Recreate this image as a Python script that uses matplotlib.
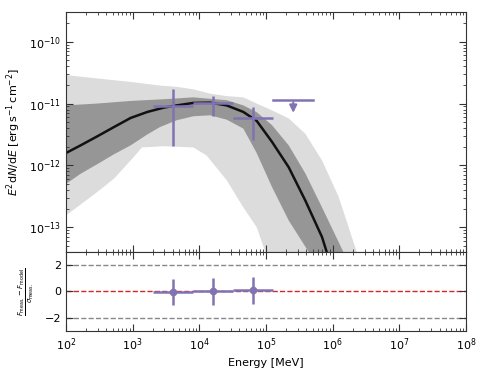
import matplotlib
matplotlib.use("Agg")
import matplotlib.pyplot as plt
import numpy as np

# energy bins [MeV] and measured fluxes [erg s^-1 cm^-2]
bin_lo = np.array([2.0e3, 8.0e3, 3.2e4])
bin_hi = np.array([8.0e3, 3.2e4, 1.28e5])
flux = np.array([9.0e-12, 1.02e-11, 5.85e-12])
flux_up = np.array([1.75e-11, 1.31e-11, 8.8e-12])
flux_lo = np.array([2.06e-12, 6.2e-12, 2.6e-12])

# upper limit bin
ul_lo, ul_hi, ul_val = 1.28e5, 5.12e5, 1.16e-11

# residuals
resid = np.array([-0.02, 0.0, 0.08])
resid_err = np.array([1.0, 1.0, 1.0])

# model curve (log10 E, log10 F)
model_lE = [2.0, 2.22, 2.47, 2.72, 2.97, 3.22, 3.47, 3.66, 3.91, 4.16, 4.41, 4.66,
            4.86, 5.09, 5.34, 5.59, 5.84, 5.91, 5.98]
model_lF = [-11.80, -11.676, -11.53, -11.38, -11.233, -11.136, -11.065, -11.03, -10.99,
            -10.985, -11.03, -11.136, -11.28, -11.62, -12.03, -12.57, -13.16, -13.40,
            -13.65]

# 1-sigma band
dark_up_lE = [2.0, 2.47, 2.97, 3.47, 3.91, 4.41, 4.66, 4.86, 5.09, 5.34, 5.59, 5.84,
              6.16, 6.25]
dark_up_lF = [-11.03, -11.0, -10.958, -10.93, -10.90, -10.946, -11.03, -11.14, -11.35,
              -11.676, -12.13, -12.68, -13.40, -13.65]
dark_lo_lE = [2.0, 2.22, 2.47, 2.72, 2.97, 3.22, 3.41, 3.66, 3.91, 4.16, 4.41, 4.66,
              4.86, 5.09, 5.34, 5.64, 5.72]
dark_lo_lF = [-12.30, -12.135, -11.98, -11.82, -11.676, -11.50, -11.38, -11.27, -11.206,
              -11.19, -11.26, -11.405, -11.80, -12.35, -12.89, -13.40, -13.65]

# 2-sigma band
light_up_lE = [2.0, 2.47, 2.97, 3.41, 3.66, 3.91, 4.16, 4.41, 4.66, 4.86, 5.09, 5.34,
               5.59, 5.84, 6.09, 6.36, 6.45]
light_up_lF = [-10.54, -10.595, -10.65, -10.71, -10.73, -10.77, -10.84, -10.88, -10.90,
               -11.0, -11.11, -11.24, -11.49, -11.92, -12.51, -13.40, -13.65]
light_lo_lE = [2.0, 2.47, 2.72, 2.97, 3.14, 3.47, 3.91, 4.11, 4.41, 4.66, 4.86, 4.99,
               5.05]
light_lo_lF = [-12.81, -12.43, -12.215, -11.92, -11.71, -11.69, -11.71, -11.84, -12.24,
               -12.68, -13.0, -13.40, -13.65]

PURPLE = "#8172B2"


def band_polygon(ax, up_lE, up_lF, lo_lE, lo_lF, color):
    xs = np.concatenate([10 ** np.array(up_lE), 10 ** np.array(lo_lE)[::-1]])
    ys = np.concatenate([10 ** np.array(up_lF), 10 ** np.array(lo_lF)[::-1]])
    ax.fill(xs, ys, color=color, lw=0, zorder=1)


def style_axis(ax):
    ax.tick_params(which="both", direction="in", top=True, right=True,
                   labelsize=8, color="#333333")
    ax.tick_params(which="major", length=5)
    ax.tick_params(which="minor", length=2.5)
    for s in ax.spines.values():
        s.set_color("#333333")


fig = plt.figure(figsize=(4.85, 3.81), dpi=100)
ax = fig.add_axes([0.136, 0.339, 0.825, 0.629])
axr = fig.add_axes([0.136, 0.131, 0.825, 0.208], sharex=ax)

band_polygon(ax, light_up_lE, light_up_lF, light_lo_lE, light_lo_lF, "#dcdcdc")
band_polygon(ax, dark_up_lE, dark_up_lF, dark_lo_lE, dark_lo_lF, "#969696")
ax.plot(10 ** np.array(model_lE), 10 ** np.array(model_lF), color="#111111", lw=1.8,
        zorder=2, solid_joinstyle="round")

centers = np.sqrt(bin_lo * bin_hi)
ax.errorbar(centers, flux,
            xerr=[centers - bin_lo, bin_hi - centers],
            yerr=[flux - flux_lo, flux_up - flux],
            fmt="none", ecolor=PURPLE, elinewidth=1.8, capsize=0, zorder=3)

ul_c = np.sqrt(ul_lo * ul_hi)
ax.plot([ul_lo, ul_hi], [ul_val, ul_val], color=PURPLE, lw=1.8, zorder=3)
ax.annotate("", xy=(ul_c, ul_val * 0.55), xytext=(ul_c, ul_val),
            arrowprops=dict(arrowstyle="-|>", color=PURPLE, lw=1.5, mutation_scale=11),
            zorder=3)

ax.set_xscale("log")
ax.set_yscale("log")
ax.set_xlim(1e2, 1e8)
ax.set_ylim(4e-14, 3e-10)
ax.set_ylabel(r"$E^2\mathrm{d}N/\mathrm{d}E$ [erg$\,$s$^{-1}\,$cm$^{-2}$]", fontsize=8)
style_axis(ax)
ax.tick_params(labelbottom=False)

# residual panel
axr.axhline(0, color="#d62728", ls="--", lw=1, zorder=1)
axr.axhline(2, color="#888888", ls="--", lw=1, zorder=1)
axr.axhline(-2, color="#888888", ls="--", lw=1, zorder=1)
axr.errorbar(centers, resid,
             xerr=[centers - bin_lo, bin_hi - centers], yerr=resid_err,
             fmt="o", color=PURPLE, ms=4.5, elinewidth=1.8, capsize=0, zorder=3)
axr.set_ylim(-3, 3)
axr.set_yticks([-2, 0, 2])
axr.set_xlabel("Energy [MeV]", fontsize=8)
axr.set_ylabel(r"$\frac{F_{\rm meas.}-F_{\rm model}}{\sigma_{\rm meas.}}$", fontsize=7,
               labelpad=6)
style_axis(axr)

fig.savefig("out.png", dpi=100)
